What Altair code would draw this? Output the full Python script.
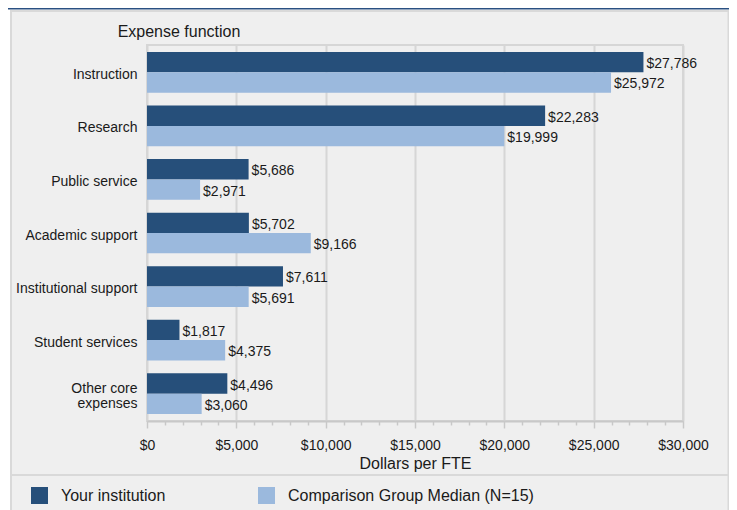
import altair as alt
import pandas as pd

categories = ["Instruction", "Research", "Public service", "Academic support",
              "Institutional support", "Student services", "Other core expenses"]
series = ["Your institution", "Comparison Group Median (N=15)"]
your_inst = [27786, 22283, 5686, 5702, 7611, 1817, 4496]
comparison = [25972, 19999, 2971, 9166, 5691, 4375, 3060]
colors = ["#264f7a", "#9bb9dd"]
x_ticks = list(range(0, 30001, 1000))

rows = []
for c, a, b in zip(categories, your_inst, comparison):
    rows.append({"category": c, "series": series[0], "value": a})
    rows.append({"category": c, "series": series[1], "value": b})
df = pd.DataFrame(rows)

FONT = "Liberation Sans"
GREY = "#efefef"
LINE = "#d6d6d6"

one = pd.DataFrame({"k": [0]})

# decorations outside the plot area (pixel positions relative to plot origin)
white_left = alt.Chart(one).mark_rect(color="white").encode(
    x=alt.value(-139), x2=alt.value(-136), y=alt.value(-37), y2=alt.value(470))
white_right = alt.Chart(one).mark_rect(color="white").encode(
    x=alt.value(581.5), x2=alt.value(600), y=alt.value(-37), y2=alt.value(470))
white_top = alt.Chart(one).mark_rect(color="white").encode(
    x=alt.value(-139), x2=alt.value(600), y=alt.value(-37), y2=alt.value(-34))
blue_line = alt.Chart(one).mark_rect(color="#2a5082").encode(
    x=alt.value(-139), x2=alt.value(600), y=alt.value(-37), y2=alt.value(-35.5))
panel = alt.Chart(one).mark_rect(fill=GREY, fillOpacity=0, stroke="#d9d9d9", strokeWidth=2).encode(
    x=alt.value(-136), x2=alt.value(581.5), y=alt.value(-34), y2=alt.value(480))
separator = alt.Chart(one).mark_rule(color="#d9d9d9", strokeWidth=2).encode(
    x=alt.value(-136), x2=alt.value(581.5), y=alt.value(430))

base = alt.Chart(df).encode(
    y=alt.Y("category:N", sort=categories,
            scale=alt.Scale(paddingInner=0.24, paddingOuter=0.13),
            axis=alt.Axis(title="Expense function", titleAngle=0, titleAlign="center",
                          titleX=31.5, titleY=-9, titleBaseline="alphabetic",
                          titleFontSize=16, titleFontWeight="normal", titleColor="#1a1a1a",
                          domain=False, ticks=False, labelPadding=10, labelFontSize=14,
                          labelColor="#1a1a1a", labelLineHeight=15, labelLimit=200,
                          labelOffset={"condition": {"test": "datum.value == 'Other core expenses'", "value": -5},
                                       "value": 2.5},
                          labelExpr="datum.value == 'Other core expenses' ? ['Other core', 'expenses'] : datum.label")),
    yOffset=alt.YOffset("series:N", sort=series, scale=alt.Scale(paddingInner=0, paddingOuter=0)),
    x=alt.X("value:Q", scale=alt.Scale(domain=[0, 30000], nice=False),
            axis=alt.Axis(title="Dollars per FTE", values=x_ticks,
                          labelExpr="datum.value % 5000 === 0 ? '$' + format(datum.value, ',') : ''",
                          labelOverlap=False, labelFontSize=14, labelColor="#1a1a1a",
                          labelPadding=10.5, labelFlush=False,
                          titleFontSize=16, titleFontWeight="normal", titleColor="#1a1a1a",
                          titleY=47, titleBaseline="alphabetic",
                          grid=True, gridColor=LINE, gridWidth=2,
                          gridOpacity={"condition": {"test": "datum.value % 5000 === 0", "value": 1}, "value": 0},
                          tickSize={"condition": {"test": "datum.value % 5000 === 0", "value": 7}, "value": 4},
                          tickColor="#c8c8c8", tickWidth=1.5,
                          domainColor="#c8c8c8", domainWidth=2)),
)

bars = base.mark_bar().encode(
    color=alt.Color("series:N", sort=series,
                    scale=alt.Scale(domain=series, range=colors),
                    legend=alt.Legend(title=None, orient="none", legendX=-116, legendY=442,
                                      direction="horizontal", symbolType="square",
                                      symbolSize=289, symbolStrokeWidth=0,
                                      labelFontSize=16, labelColor="#1a1a1a",
                                      labelOffset=13, columnPadding=92, labelLimit=400,
                                      padding=0))
)

labels = base.mark_text(align="left", baseline="middle", dx=3, dy=2, fontSize=14,
                        color="#1a1a1a").encode(
    text=alt.Text("value:Q", format="$,.0f")
)

chart = alt.layer(white_left, white_right, white_top, blue_line, panel, separator,
                  bars, labels).properties(
    width=536, height=376,
    autosize=alt.AutoSizeParams(type="none"),
    padding={"left": 139, "top": 37, "right": 46, "bottom": 89},
    background=GREY,
).configure(font=FONT).configure_view(stroke=LINE, strokeWidth=2)

chart.save("out.html", embed_options={"renderer": "svg", "actions": False})
